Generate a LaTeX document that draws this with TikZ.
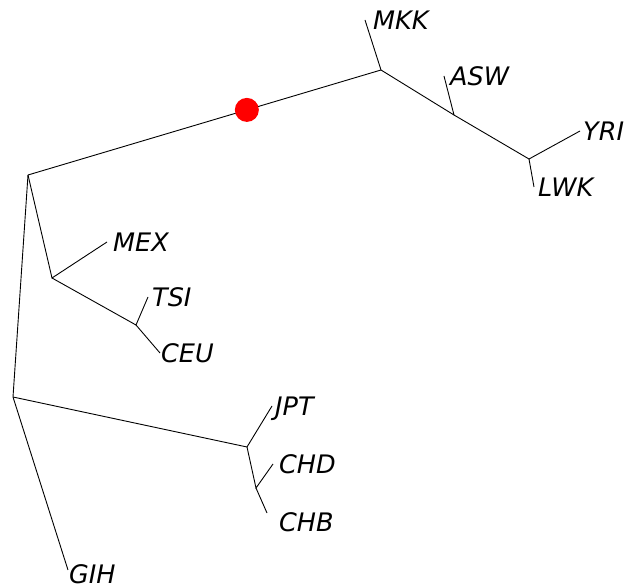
\documentclass[tikz,border=0pt]{standalone}
\usepackage{fontspec}
\setmainfont{DejaVu Sans}
\usetikzlibrary{positioning,calc}

\begin{document}
\begin{tikzpicture}[x=1pt,y=-1pt,
  branch/.style={line width=0.9pt},
  pop/.style={font=\fontsize{25.5}{30}\selectfont\itshape,inner sep=0pt,text height=18.2pt,text depth=0pt},
  mut/.style={circle,fill=red,inner sep=0pt,minimum size=24pt}]
\useasboundingbox (0,0) rectangle (625,588);
% splits
\coordinate (root) at (28,175);
\coordinate (afr) at (381,70);
\coordinate (asw) at (454,115);
\coordinate (wafr) at (529,159);
\coordinate (eur) at (52,278);
\coordinate (ts) at (136,325);
\coordinate (sas) at (13,397);
\coordinate (eas) at (247,447);
\coordinate (han) at (256,488);
% tips
\coordinate (tMKK) at (365,20);
\coordinate (tASW) at (444,76);
\coordinate (tYRI) at (580,131);
\coordinate (tLWK) at (534,187);
\coordinate (tMEX) at (107,242);
\coordinate (tTSI) at (148,297);
\coordinate (tCEU) at (160,353);
\coordinate (tJPT) at (272,406);
\coordinate (tCHD) at (273,464);
\coordinate (tCHB) at (267,513);
\coordinate (tGIH) at (68,570);
% branches
\draw[branch] (root)--(afr)--(tMKK);
\draw[branch] (afr)--(asw)--(tASW);
\draw[branch] (asw)--(wafr)--(tYRI);
\draw[branch] (wafr)--(tLWK);
\draw[branch] (root)--(eur)--(tMEX);
\draw[branch] (eur)--(ts)--(tTSI);
\draw[branch] (ts)--(tCEU);
\draw[branch] (root)--(sas)--(tGIH);
\draw[branch] (sas)--(eas)--(tJPT);
\draw[branch] (eas)--(han)--(tCHD);
\draw[branch] (han)--(tCHB);
% mutation on the stem
\node[mut] (hit) at ($(root)!0.62!(afr)$) {};
% labels
\node[pop,right=8pt of tMKK] (MKK) {MKK};
\node[pop,right=6pt of tASW] (ASW) {ASW};
\node[pop,right=3pt of tYRI] (YRI) {YRI};
\node[pop,right=4pt of tLWK] (LWK) {LWK};
\node[pop,right=6pt of tMEX] (MEX) {MEX};
\node[pop,right=4pt of tTSI] (TSI) {TSI};
\node[pop,right=1pt of tCEU] (CEU) {CEU};
\node[pop,right=3pt of tJPT] (JPT) {JPT};
\node[pop,right=6pt of tCHD] (CHD) {CHD};
\node[pop,right=12pt of tCHB,yshift=-9pt] (CHB) {CHB};
\node[pop,right=1pt of tGIH,yshift=-4pt] (GIH) {GIH};
\end{tikzpicture}
\end{document}
